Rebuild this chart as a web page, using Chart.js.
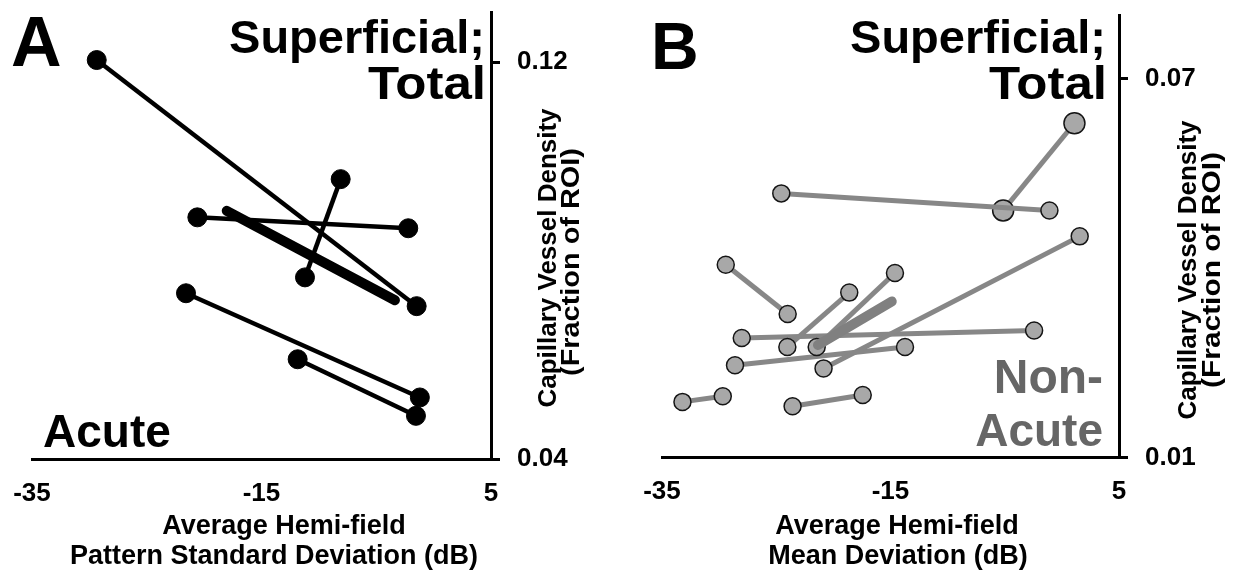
<!DOCTYPE html>
<html>
<head>
<meta charset="utf-8">
<script src="https://cdn.jsdelivr.net/npm/chart.js@4.4.1/dist/chart.umd.min.js"></script>
<style>
    html, body { margin: 0; padding: 0; background: #fff; }
    body { width: 1248px; height: 571px; position: relative; overflow: hidden; }
    canvas { position: absolute; top: 0; }
    #panelA { left: 0; }
    #panelB { left: 620px; }
</style>
</head>
<body>
<canvas id="panelA" width="620" height="571"></canvas>
<canvas id="panelB" width="628" height="571"></canvas>
<script>
// tick labels
const xTicks = [-35, -15, 5]
const yTicksA = [0.04, 0.12]
const yTicksB = [0.01, 0.07]

// A: acute eyes, average hemi-field PSD (dB) vs capillary density, one pair per eye
const psdStart = [-29.36, -20.59, -8.10, -21.58, -11.85]
const psdEnd = [-1.48, -2.21, -11.21, -1.20, -1.54]
const acuteDensStart = [0.1204, 0.0887, 0.0964, 0.0734, 0.0601]
const acuteDensEnd = [0.0708, 0.0865, 0.0766, 0.0524, 0.0487]
const acuteTrendX = [-18.03, -3.37]
const acuteTrendY = [0.0900, 0.0720]

// B: non-acute eyes, average hemi-field MD (dB) vs capillary density
const mdStart = [-24.56, -5.14, 1.56, -29.42, -18.61, -14.61, -28.02, -28.61, -33.21, -23.57]
const mdEnd = [-1.09, 1.10, -20.86, -24.00, -24.03, -21.46, -2.43, -13.73, -29.68, -17.43]
const nonAcuteDensStart = [0.0518, 0.0491, 0.0450, 0.0405, 0.0361, 0.0392, 0.0289, 0.0246, 0.0188, 0.0181]
const nonAcuteDensEnd = [0.0491, 0.0629, 0.0241, 0.0327, 0.0275, 0.0275, 0.0301, 0.0275, 0.0197, 0.0199]
const nonAcuteBig = [false, true, false, false, false, false, false, false, false, false]
const nonAcuteTrendX = [-21.35, -14.89]
const nonAcuteTrendY = [0.0278, 0.0347]

const FONT = '"Liberation Sans", Arial, Helvetica, sans-serif'

// draws the free texts of a panel (panel letter, labels, axis titles)
function TextPlugin(items) {
    return {
        id: 'panelText',
        afterDraw(chart) {
            const ctx = chart.ctx
            items.forEach(t => {
                ctx.save()
                ctx.font = 'bold ' + t.size + 'px ' + FONT
                ctx.fillStyle = t.color || '#000'
                ctx.textAlign = t.align || 'left'
                ctx.textBaseline = 'alphabetic'
                ctx.translate(t.x, t.y)
                if (t.rotate) ctx.rotate(-Math.PI / 2)
                if (t.width) {
                    const w = ctx.measureText(t.text).width
                    ctx.scale(t.width / w, 1)
                }
                ctx.fillText(t.text, 0, 0)
                ctx.restore()
            })
        }
    }
}

class Panel {

    constructor(id, opts) {
        this.ctx = document.getElementById(id).getContext('2d')
        this.opts = opts
        this.chart = null
    }

    Pairs(xs1, xs2, ys1, ys2, style) {
        return xs1.map((x, i) => Object.assign({
            data: [{ x: x, y: ys1[i] }, { x: xs2[i], y: ys2[i] }],
            showLine: true,
            order: 1
        }, style(i)))
    }

    Trend(xs, ys, color) {
        return {
            data: xs.map((x, i) => ({ x: x, y: ys[i] })),
            showLine: true,
            borderColor: color,
            borderWidth: 10,
            borderCapStyle: 'round',
            pointRadius: 0,
            order: 0
        }
    }

    CreateChart(datasets) {
        const o = this.opts
        const tickFont = { family: FONT, size: 26, weight: 'bold' }

        this.chart = new Chart(this.ctx, {
            type: 'scatter',
            data: { datasets: datasets },
            options: {
                responsive: false,
                animation: false,
                events: [],
                layout: { padding: { left: o.left, top: o.top, right: 0, bottom: 0 } },
                plugins: { legend: { display: false }, tooltip: { enabled: false } },
                scales: {
                    x: {
                        type: 'linear',
                        position: 'bottom',
                        min: -35,
                        max: 5,
                        afterBuildTicks: s => { s.ticks = xTicks.map(v => ({ value: v })) },
                        afterFit: s => {
                            s.height = o.xHeight
                            s.paddingLeft = 0
                            s.paddingRight = 0
                        },
                        grid: { display: false, drawTicks: false },
                        border: { display: true, color: '#000', width: 3 },
                        ticks: { color: '#000', font: tickFont, padding: 19, maxRotation: 0, callback: v => String(v) }
                    },
                    y: {
                        type: 'linear',
                        position: 'right',
                        min: o.yMin,
                        max: o.yMax,
                        afterBuildTicks: s => { s.ticks = o.yTicks.map(v => ({ value: v })) },
                        afterFit: s => {
                            s.width = o.yWidth
                            s.paddingTop = 0
                            s.paddingBottom = 0
                        },
                        grid: { drawOnChartArea: false, drawTicks: true, tickLength: 9, color: '#000', lineWidth: 3 },
                        border: { display: true, color: '#000', width: 3 },
                        ticks: { color: '#000', font: tickFont, padding: 17, callback: v => v.toFixed(2) }
                    }
                }
            },
            plugins: [TextPlugin(o.texts)]
        })
    }
}

// panel A
const panelA = new Panel('panelA', {
    left: 32, top: 12.4, xHeight: 112, yWidth: 129,
    yMin: 0.04, yMax: 0.13, yTicks: yTicksA,
    texts: [
        { text: 'A', x: 11, y: 66, size: 70 },
        { text: 'Superficial;', x: 485, y: 53, size: 47, align: 'right' },
        { text: 'Total', x: 486, y: 99, size: 47, align: 'right', width: 118 },
        { text: 'Acute', x: 43, y: 447, size: 46 },
        { text: 'Average Hemi-field', x: 284, y: 534, size: 27, align: 'center' },
        { text: 'Pattern Standard Deviation (dB)', x: 274, y: 564, size: 27, align: 'center' },
        { text: 'Capillary Vessel Density', x: 556, y: 258, size: 26, align: 'center', rotate: true },
        { text: '(Fraction of ROI)', x: 579, y: 262, size: 26, align: 'center', rotate: true, width: 228 }
    ]
})
panelA.CreateChart([
    panelA.Trend(acuteTrendX, acuteTrendY, '#000'),
    ...panelA.Pairs(psdStart, psdEnd, acuteDensStart, acuteDensEnd, () => ({
        borderColor: '#000',
        borderWidth: 4.5,
        pointRadius: 9.5,
        pointBorderWidth: 1,
        pointBackgroundColor: '#000',
        pointBorderColor: '#000'
    }))
])

// panel B
const panelB = new Panel('panelB', {
    left: 42, top: 15.2, xHeight: 113.5, yWidth: 129,
    yMin: 0.01, yMax: 0.08, yTicks: yTicksB,
    texts: [
        { text: 'B', x: 31, y: 69, size: 66 },
        { text: 'Superficial;', x: 486, y: 53, size: 47, align: 'right' },
        { text: 'Total', x: 487, y: 99, size: 47, align: 'right', width: 118 },
        { text: 'Non-', x: 483, y: 393, size: 48, align: 'right', color: '#666' },
        { text: 'Acute', x: 483, y: 446, size: 46, align: 'right', color: '#666' },
        { text: 'Average Hemi-field', x: 277, y: 534, size: 27, align: 'center' },
        { text: 'Mean Deviation (dB)', x: 278, y: 564, size: 27, align: 'center' },
        { text: 'Capillary Vessel Density', x: 576, y: 270, size: 26, align: 'center', rotate: true },
        { text: '(Fraction of ROI)', x: 600, y: 270, size: 26, align: 'center', rotate: true, width: 236 }
    ]
})
panelB.CreateChart([
    panelB.Trend(nonAcuteTrendX, nonAcuteTrendY, '#808080'),
    ...panelB.Pairs(mdStart, mdEnd, nonAcuteDensStart, nonAcuteDensEnd, i => ({
        borderColor: '#878787',
        borderWidth: 5,
        pointRadius: nonAcuteBig[i] ? 10.5 : 8.5,
        pointBorderWidth: 1.5,
        pointBackgroundColor: '#a8a8a8',
        pointBorderColor: '#151515'
    }))
])
</script>
</body>
</html>
